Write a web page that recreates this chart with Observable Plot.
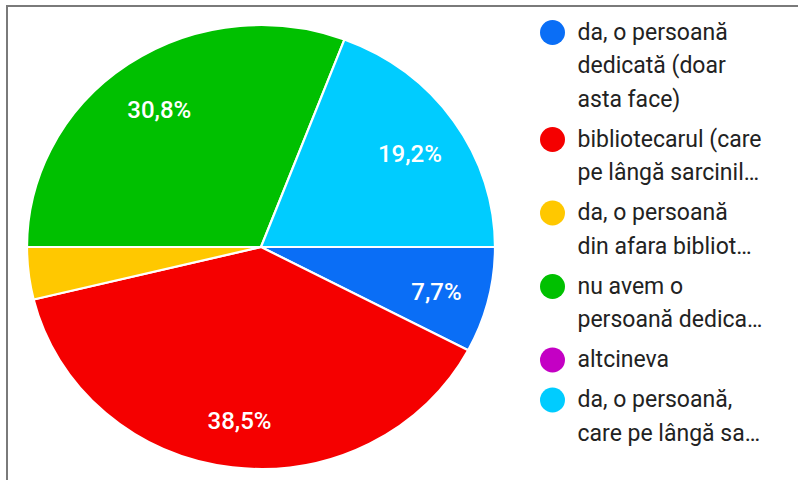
<!DOCTYPE html>
<html>
<head>
<meta charset="utf-8">
<script src="https://cdn.jsdelivr.net/npm/d3@7"></script>
<script src="https://cdn.jsdelivr.net/npm/@observablehq/plot@0.6"></script>
<style>
  html, body { margin: 0; padding: 0; background: #fff; }
  #chart { position: relative; width: 798px; height: 480px; overflow: hidden; }
  #chart > svg, #chart > figure { position: absolute; top: 0; margin: 0; }
  #frame { position: absolute; left: 6px; top: 5px; right: -4px; bottom: -4px;
           border-top: 2px solid #7a7a7a; border-left: 2px solid #7a7a7a; pointer-events: none; z-index: 5; }
</style>
</head>
<body>
<div id="chart"><div id="frame"></div></div>
<script>
// ---- data (legend order = slice order, clockwise from 3 o'clock) ----
const categories = ["dedicata", "bibliotecarul", "din_afara", "nu_avem", "altcineva", "pe_langa"];
const values = [7.7, 38.5, 3.8, 30.8, 0, 19.2];
const colors = ["#0a6ef6", "#f50000", "#ffc800", "#00c000", "#c400c4", "#00ccff"];
const legendLines = [
  ["da, o persoană", "dedicată (doar", "asta face)"],
  ["bibliotecarul (care", "pe lângă sarcinil…"],
  ["da, o persoană", "din afara bibliot…"],
  ["nu avem o", "persoană dedica…"],
  ["altcineva"],
  ["da, o persoană,", "care pe lângă sa…"]
];

const FONT = "Roboto, 'Noto Sans', sans-serif";
const rows = categories.map((c, i) => ({cat: c, value: values[i]}));
const colorOpts = {type: "ordinal", domain: categories, range: colors};
const colorScale = Plot.scale({color: colorOpts});

// pie layout (angles) via d3.pie, starting at 3 o'clock, clockwise
const arcs = d3.pie().sort(null).value(d => d.value)
  .startAngle(Math.PI / 2).endAngle(Math.PI / 2 + 2 * Math.PI)(rows)
  .filter(a => a.data.value > 0);

const labelFrac = 0.77;
const labelRows = arcs.filter(a => a.data.value >= 5).map(a => {
  const m = (a.startAngle + a.endAngle) / 2;
  return {
    x: labelFrac * Math.sin(m),
    y: -labelFrac * Math.cos(m),
    text: a.data.value.toFixed(1).replace(".", ",") + "%"
  };
});

function pieMark(index, scales, values, dimensions, context) {
  const cx = scales.x(0), cy = scales.y(0);
  const rx = scales.x(1) - cx, ry = scales.y(1) - cy;
  const color = scales.color ?? (v => colorScale.apply(v));
  const arc = d3.arc().innerRadius(0).outerRadius(rx);
  const g = d3.create("svg:g")
    .attr("transform", `translate(${cx},${cy}) scale(1,${ry / rx})`);
  g.selectAll("path").data(arcs).join("path")
    .attr("d", arc)
    .attr("fill", d => color(d.data.cat))
    .attr("stroke", "#fff")
    .attr("stroke-width", 2.2)
    .attr("stroke-linejoin", "round")
    .attr("vector-effect", "non-scaling-stroke");
  return g.node();
}

const piePlot = Plot.plot({
  width: 798,
  height: 480,
  margin: 0,
  style: {fontFamily: FONT, background: "transparent"},
  x: {domain: [-1, 1], range: [27, 495], axis: null},
  y: {domain: [-1, 1], range: [25, 469], axis: null},
  color: colorOpts,
  marks: [
    pieMark,
    Plot.text(labelRows, {
      x: "x", y: "y", text: "text",
      fill: "#fff", fontSize: 24, fontWeight: 500,
      textAnchor: "middle", lineAnchor: "middle", dy: 4
    })
  ]
});
piePlot.style.left = "0px";

// legend rows: line height and item gap
const LH = 33.5, GAP = 6.5, TOP = 32;
const legendDots = [];
const legendText = [];
let yy = TOP;
legendLines.forEach((lines, i) => {
  legendDots.push({cat: categories[i], x: 32, y: yy});
  lines.forEach((t, j) => legendText.push({text: t, x: 57, y: yy + j * LH}));
  yy += lines.length * LH + GAP;
});

const legendPlot = Plot.plot({
  width: 278,
  height: 480,
  margin: 0,
  style: {fontFamily: FONT, background: "transparent"},
  x: {type: "identity", axis: null},
  y: {type: "identity", axis: null},
  color: colorOpts,
  marks: [
    Plot.dot(legendDots, {x: "x", y: "y", r: 12.5, fill: "cat"}),
    Plot.text(legendText, {
      x: "x", y: "y", text: "text",
      fill: "#222", fontSize: 23,
      textAnchor: "start", lineAnchor: "middle"
    })
  ]
});
legendPlot.style.left = "520px";

const chart = document.getElementById("chart");
chart.appendChild(piePlot);
chart.appendChild(legendPlot);
</script>
</body>
</html>
